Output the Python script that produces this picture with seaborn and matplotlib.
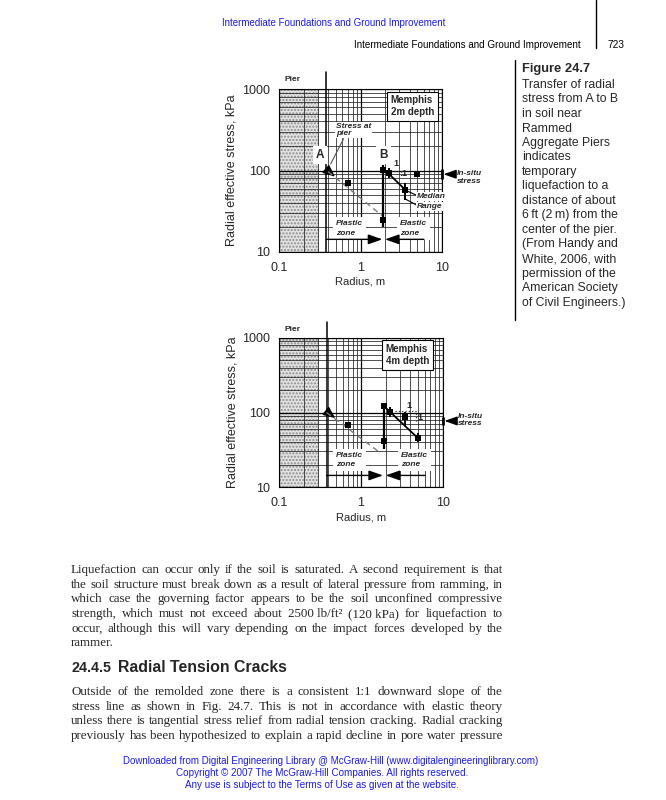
import matplotlib
matplotlib.use("Agg")
import matplotlib.pyplot as plt
from matplotlib.lines import Line2D
from matplotlib.ticker import LogLocator, NullFormatter
import seaborn as sns

W, H = 666, 800
SANS = ["Liberation Sans", "DejaVu Sans"]
SERIF = ["Liberation Serif", "DejaVu Serif"]
BLUE = "#1a1af0"

# -- Memphis, 2 m depth (radius in m, radial effective stress in kPa) ----------
R2_MED = [0.71, 2.25, 3.5, 4.96]
S2_MED = [71, 92, 58, 90]
S2_LO = [65, 82, 43, 84]
S2_HI = [76, 107, 71, 95]
R2_B = [1.9, 1.9]
S2_B = [101, 25]
S2_B_RANGE = [20, 117]
R2_FIT = [1.92, 3.6]
S2_FIT = [105, 57]
R2_PLASTIC = [0.40, 1.83]
S2_PLASTIC = [97, 28]
R2_SLOPE = [2.4, 3.1, 3.1]
S2_SLOPE = [100, 100, 80]
S2_INSITU = [78, 103]
S2_INSITU_AT = 90

# -- Memphis, 4 m depth --------------------------------------------------------
R4_MED = [0.70, 2.26, 3.44, 5.0]
S4_MED = [67, 102, 87, 45.5]
S4_LO = [61, 87, 66, 40]
S4_HI = [72, 119, 102, 53]
R4_B = [1.9, 1.9]
S4_B = [122, 41]
S4_B_RANGE = [32, 131]
R4_FIT = [1.9, 5.2]
S4_FIT = [122, 43]
R4_PLASTIC = [0.38, 1.7]
S4_PLASTIC = [100, 29]
R4_SLOPE = [2.6, 4.7, 4.7]
S4_SLOPE = [106, 106, 72]
S4_INSITU = [67, 87]
S4_INSITU_AT = 77

PIER_EDGE = 0.31
PIER_LINE = 0.38
IN_SITU_R = 10

# -- Page text -----------------------------------------------------------------
RUNNING_HEAD = "Intermediate Foundations and Ground Improvement"
CAPTION = [
    "Transfer of radial", "stress from A to B", "in soil near", "Rammed",
    "Aggregate Piers", "indicates", "temporary", "liquefaction to a",
    "distance of about", "6\u2009ft (2\u2009m) from the", "center of the pier.",
    "(From Handy and", "White, 2006, with", "permission of the",
    "American Society", "of Civil Engineers.)",
]
# NBSP keeps a value and its unit together when a line is justified
PARA1 = [
    "Liquefaction can occur only if the soil is saturated. A second requirement is that",
    "the soil structure must break down as a result of lateral pressure from ramming, in",
    "which case the governing factor appears to be the soil unconfined compressive",
    "strength, which must not exceed about 2500\u00a0lb/ft\u00b2 (120\u00a0kPa) for liquefaction to",
    "occur, although this will vary depending on the impact forces developed by the",
    "rammer.",
]
PARA2 = [
    "Outside of the remolded zone there is a consistent 1:1 downward slope of the",
    "stress line as shown in Fig. 24.7. This is not in accordance with elastic theory",
    "unless there is tangential stress relief from radial tension cracking. Radial cracking",
    "previously has been hypothesized to explain a rapid decline in pore water pressure",
]
FOOTER = [
    "Downloaded from Digital Engineering Library @ McGraw-Hill (www.digitalengineeringlibrary.com)",
    "Copyright \u00a9 2007 The McGraw-Hill Companies. All rights reserved.",
    "Any use is subject to the Terms of Use as given at the website.",
]

sns.set_style("white")
plt.rcParams["font.family"] = SANS

fig = plt.figure(figsize=(W / 100, H / 100), dpi=100)
renderer = fig.canvas.get_renderer()


# -- Helpers in page pixels ----------------------------------------------------

def put(x, y, s, **kw):
    kw.setdefault("va", "center")
    kw.setdefault("family", SANS)
    return fig.text(x / W, 1 - y / H, s, **kw)


def text_width(s, size, **kw):
    t = put(0, 0, s, fontsize=size, **kw)
    w = t.get_window_extent(renderer).width
    t.remove()
    return w


def fit_size(x0, x1, s, **kw):
    return 10 * (x1 - x0) / text_width(s, 10, **kw)


def fit(x0, x1, y, s, **kw):
    """Text whose font size is chosen so it spans x0..x1."""
    return put(x0, y, s, fontsize=fit_size(x0, x1, s, **kw), **kw)


def vline(x, y0, y1, lw=1.0):
    fig.add_artist(Line2D([x / W, x / W], [1 - y0 / H, 1 - y1 / H], color="k", lw=lw))


def justify(lines, y0, step, x0, x1, size, ragged_last):
    space = text_width("a a", size, family=SERIF) - text_width("aa", size, family=SERIF)
    for i, line in enumerate(lines):
        words = line.split(" ")
        widths = [text_width(w, size, family=SERIF) for w in words]
        ragged = (ragged_last and i == len(lines) - 1) or len(words) == 1
        gap = space if ragged else (x1 - x0 - sum(widths)) / (len(words) - 1)
        x = x0
        for w, wd in zip(words, widths):
            put(x, y0 + i * step, w, fontsize=size, family=SERIF)
            x += wd + gap


# -- Panels --------------------------------------------------------------------

def arrow(ax, tip, tail, scale=10, hl=0.85, hw=0.3):
    ax.annotate("", xy=tip, xytext=tail, annotation_clip=False,
                arrowprops=dict(arrowstyle=f"-|>,head_length={hl},head_width={hw}",
                                color="k", lw=1, mutation_scale=scale,
                                shrinkA=0, shrinkB=0))


def draw_panel(ax, med_r, med_s, lo, hi, b_r, b_s, b_range, fit_r, fit_s,
               pl_r, pl_s, slope_r, slope_s, insitu, insitu_at,
               depth, box_x, box_y, zone_y, ones, insitu_y):
    ax.set_xscale("log")
    ax.set_yscale("log")
    ax.set_xlim(0.1, 10)
    ax.set_ylim(10, 1000)
    ax.set_axisbelow(True)
    for axis in (ax.xaxis, ax.yaxis):
        axis.set_minor_locator(LogLocator(base=10, subs=range(2, 10)))
        axis.set_minor_formatter(NullFormatter())
    ax.grid(which="major", color="k", lw=0.9)
    ax.grid(which="minor", color="#202020", lw=0.55)
    ax.set_xticks([0.1, 1, 10])
    ax.set_xticklabels(["0.1", "1", "10"])
    ax.set_yticks([10, 100, 1000])
    ax.set_yticklabels(["10", "100", "1000"])
    ax.tick_params(which="both", length=0, labelsize=9)
    ax.tick_params(axis="x", pad=7)
    ax.tick_params(axis="y", pad=6.5)
    for sp in ax.spines.values():
        sp.set_color("k")
        sp.set_linewidth(0.8)

    # pier
    ax.axvspan(0.1, PIER_EDGE, facecolor="#e2e2e2", edgecolor="#8c8c8c",
               hatch=".....", lw=0, zorder=0.1)
    ax.axvline(PIER_LINE, ymax=1.105, clip_on=False, color="k", lw=1.1, zorder=4)
    ax.text(0.118, 1.06, "Pier", transform=ax.get_xaxis_transform(),
            fontsize=6, weight="bold", va="center")

    # measured stresses
    sns.lineplot(x=pl_r, y=pl_s, ax=ax, color="#7a7a7a", lw=1,
                 linestyle=(0, (4, 3)), estimator=None, sort=False, zorder=4)
    sns.lineplot(x=fit_r, y=fit_s, ax=ax, color="k", lw=1.3,
                 estimator=None, sort=False, zorder=5)
    sns.lineplot(x=slope_r, y=slope_s, ax=ax, color="#333333", lw=0.9,
                 linestyle=":", estimator=None, sort=False, zorder=5)
    ax.vlines(med_r, lo, hi, color="k", lw=1.4, zorder=5)
    ax.vlines(b_r[0], b_range[0], b_range[1], color="k", lw=1.6, zorder=5)
    sns.scatterplot(x=med_r, y=med_s, ax=ax, marker="s", s=20, color="k",
                    linewidth=0, zorder=6)
    sns.scatterplot(x=b_r, y=b_s, ax=ax, marker="s", s=20, color="k",
                    linewidth=0, zorder=6)
    arrow(ax, (0.485, 84), (0.40, 99), scale=9, hl=0.8, hw=0.35)

    # in-situ stress
    ax.vlines(IN_SITU_R, insitu[0], insitu[1], color="k", lw=2, clip_on=False, zorder=6)
    arrow(ax, (10.4, insitu_at), (13.5, insitu_at), scale=9)
    ax.text(15.3, insitu_y, "In-situ\nstress", fontsize=6, style="italic",
            weight="bold", va="center", linespacing=1.1)

    # zones
    lbl = dict(fontsize=6, style="italic", weight="bold", va="center", linespacing=1.5,
               zorder=3, bbox=dict(boxstyle="square,pad=0.35", fc="white", ec="none"))
    ax.text(0.5, zone_y, "Plastic\nzone", **lbl)
    ax.text(3.05, zone_y, "Elastic\nzone", **lbl)
    arrow(ax, (1.85, 14.3), (PIER_LINE, 14.3))
    arrow(ax, (2.0, 14.3), (6.0, 14.3))

    ax.text(box_x, box_y, f"Memphis\n{depth} depth", fontsize=7, weight="bold",
            va="center", linespacing=1.25, zorder=7,
            bbox=dict(boxstyle="square,pad=0.4", fc="white", ec="k", lw=0.8))
    for (x, y) in ones:
        ax.text(x, y, "1", fontsize=6.5, weight="bold", ha="center", va="center", zorder=7)

    ax.set_xlabel("Radius, m", fontsize=8, va="center")
    ax.set_ylabel("Radial effective stress, kPa", fontsize=9, va="center")


ax_top = fig.add_axes([279 / W, 1 - 252 / H, 163 / W, 163 / H])
draw_panel(ax_top, R2_MED, S2_MED, S2_LO, S2_HI, R2_B, S2_B, S2_B_RANGE,
           R2_FIT, S2_FIT, R2_PLASTIC, S2_PLASTIC, R2_SLOPE, S2_SLOPE,
           S2_INSITU, S2_INSITU_AT, "2m", 2.35, 610, 19.5,
           [(2.7, 122), (3.45, 91)], 82)
ax_top.xaxis.set_label_coords(0.5, -(282 - 252) / 163)
ax_top.yaxis.set_label_coords(-(279 - 232) / 163, 0.5)

# labels only on the 2 m panel
box = dict(boxstyle="square,pad=0.25", fc="white", ec="none")
ax_top.text(0.318, 156, "A", fontsize=8.5, weight="bold", ha="center", va="center", bbox=box, zorder=7)
ax_top.text(1.92, 156, "B", fontsize=8.5, weight="bold", ha="center", va="center", bbox=box, zorder=7)
ital = dict(fontsize=6, style="italic", weight="bold", va="center", linespacing=1.15, zorder=7,
            bbox=dict(boxstyle="square,pad=0.12", fc="white", ec="none"))
ax_top.text(0.5, 315, "Stress at\npier", **ital)
ax_top.plot([0.62, 0.43], [245, 120], color="#555555", lw=0.8, zorder=6)
ax_top.text(4.9, 48, "Median", **ital)
ax_top.text(4.9, 36, "Range", **ital)
ax_top.plot([3.6, 4.8], [57, 50], color="k", lw=0.8, zorder=6)
ax_top.plot([3.5, 4.8], [45, 38], color="k", lw=0.8, zorder=6)

ax_bot = fig.add_axes([279 / W, 1 - 487 / H, 164 / W, 149 / H])
draw_panel(ax_bot, R4_MED, S4_MED, S4_LO, S4_HI, R4_B, S4_B, S4_B_RANGE,
           R4_FIT, S4_FIT, R4_PLASTIC, S4_PLASTIC, R4_SLOPE, S4_SLOPE,
           S4_INSITU, S4_INSITU_AT, "4m", 2.0, 585, 23,
           [(3.8, 126), (5.2, 86)], 79)
ax_bot.xaxis.set_label_coords(0.5, -(518 - 487) / 149)
ax_bot.yaxis.set_label_coords(-(279 - 232) / 164, 0.5)

# -- Running heads -------------------------------------------------------------
fit(222, 448, 23, RUNNING_HEAD, color=BLUE)
fit(354, 583, 45, RUNNING_HEAD, color="k")
fit(608, 625, 45, "723", color="k")
vline(596, 0, 48)

# -- Caption -------------------------------------------------------------------
vline(515, 60, 320)
put(522, 69, "Figure 24.7", fontsize=9.3, weight="bold")
for i, line in enumerate(CAPTION):
    put(522, 85 + i * 14.5, line, fontsize=8.8)

# -- Body text -----------------------------------------------------------------
justified = PARA1[:-1] + PARA2
natural = max(text_width(l, 10, family=SERIF) for l in justified)
body_size = 10 * 0.995 * (503 - 71) / natural
justify(PARA1, 570, 14.7, 71, 503, body_size, ragged_last=True)
head_size = fit_size(118, 287, "Radial Tension Cracks", weight="bold")
put(71.7, 668, "24.4.5", fontsize=head_size * 0.9, weight="bold")
put(118, 668, "Radial Tension Cracks", fontsize=head_size, weight="bold")
justify(PARA2, 692, 14.7, 71, 503, body_size, ragged_last=False)

for (x0, x1), y, line in zip([(123, 546), (176, 471), (185, 461)], [761, 773, 785], FOOTER):
    fit(x0, x1, y, line, color=BLUE)

fig.savefig("out.png", dpi=100)
